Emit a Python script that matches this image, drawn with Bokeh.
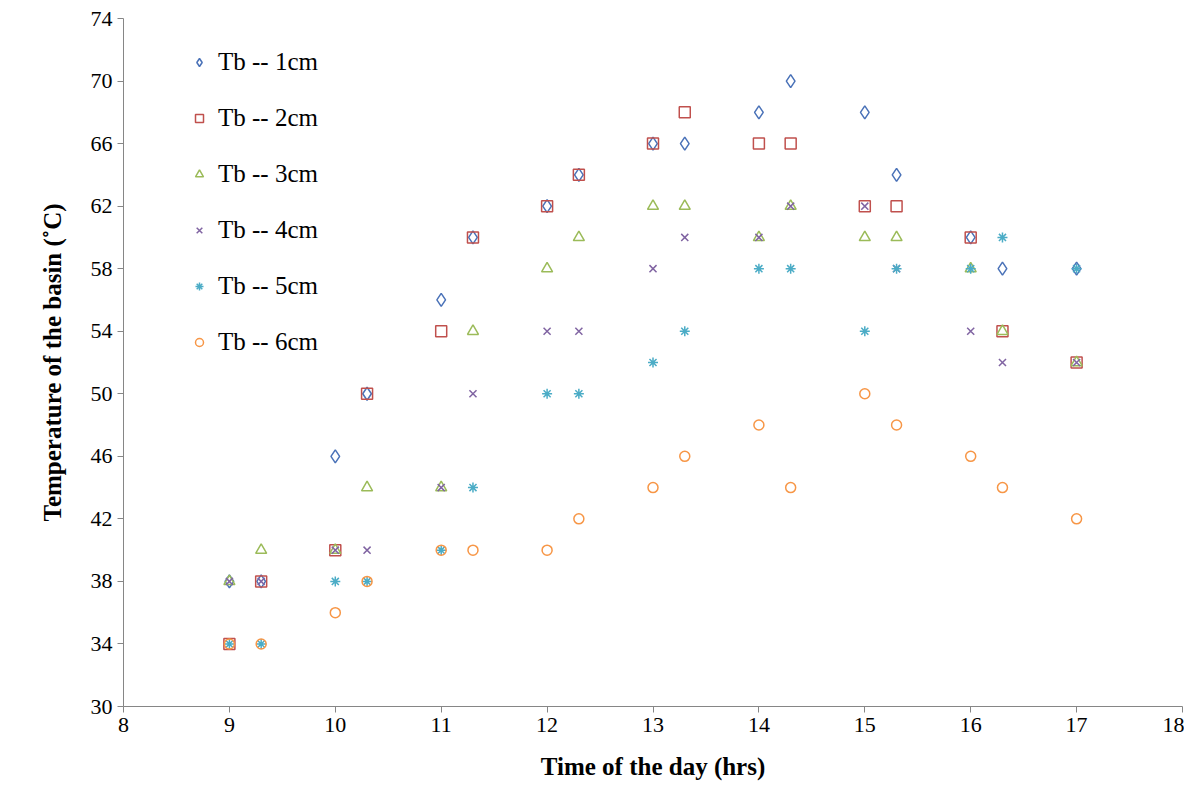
from bokeh.plotting import figure
from bokeh.models import Range1d, FixedTicker, Legend, LegendItem
from bokeh.embed import file_html
from bokeh.resources import INLINE

x = [9, 9.3, 10, 10.3, 11, 11.3, 12, 12.3, 13, 13.3, 14, 14.3, 15, 15.3, 16, 16.3, 17]
tb1 = [38, 38, 46, 50, 56, 60, 62, 64, 66, 66, 68, 70, 68, 64, 60, 58, 58]
tb2 = [34, 38, 40, 50, 54, 60, 62, 64, 66, 68, 66, 66, 62, 62, 60, 54, 52]
tb3 = [38, 40, 40, 44, 44, 54, 58, 60, 62, 62, 60, 62, 60, 60, 58, 54, 52]
tb4 = [38, 38, 40, 40, 44, 50, 54, 54, 58, 60, 60, 62, 62, 58, 54, 52, 52]
tb5 = [34, 34, 38, 38, 40, 44, 50, 50, 52, 54, 58, 58, 54, 58, 58, 60, 58]
tb6 = [34, 34, 36, 38, 40, 40, 40, 42, 44, 46, 48, 44, 50, 48, 46, 44, 42]
labels = ["Tb -- 1cm", "Tb -- 2cm", "Tb -- 3cm", "Tb -- 4cm", "Tb -- 5cm", "Tb -- 6cm"]

series = [tb1, tb2, tb3, tb4, tb5, tb6]
markers = ["diamond", "square", "triangle", "x", "asterisk", "circle"]
colors = ["#4a72b8", "#c0504d", "#9bbb59", "#8064a2", "#4bacc6", "#f79646"]
sizes = [13, 11, 11, 10, 10, 10]

p = figure(width=1184, height=794, output_backend="svg", toolbar_location=None,
           x_range=Range1d(8, 18), y_range=Range1d(30, 74),
           min_border_left=123, min_border_right=2, min_border_top=18, min_border_bottom=88)
p.outline_line_color = None
p.xgrid.visible = False
p.ygrid.visible = False
p.xaxis.ticker = FixedTicker(ticks=list(range(8, 19)))
p.yaxis.ticker = FixedTicker(ticks=list(range(30, 75, 4)))
for ax in (p.xaxis[0], p.yaxis[0]):
    ax.major_label_text_font = "Liberation Serif"
    ax.major_label_text_font_size = "22px"
    ax.major_label_text_color = "black"
    ax.axis_label_text_font = "Liberation Serif"
    ax.axis_label_text_font_size = "25px"
    ax.axis_label_text_font_style = "bold"
    ax.axis_label_text_color = "black"
    ax.axis_line_color = "#868686"
    ax.major_tick_line_color = "#868686"
    ax.major_tick_out = 6
    ax.major_tick_in = 0
    ax.minor_tick_line_color = None
p.xaxis.axis_label = "Time of the day (hrs)"
p.yaxis.axis_label = "Temperature of the basin (˚C)"
p.yaxis.axis_label_standoff = 22
p.xaxis.axis_label_standoff = 18

items = []
for s, m, c, sz, lab in zip(series, markers, colors, sizes, labels):
    r = p.scatter(x, s, marker=m, size=sz, line_color=c, fill_color=None, line_width=1.5)
    items.append(LegendItem(label=lab, renderers=[r]))
leg = Legend(items=items, location=(65, 350), border_line_color=None,
             background_fill_alpha=0, label_text_font="Liberation Serif",
             label_text_font_size="25px", label_text_color="black",
             spacing=28, glyph_width=22, label_standoff=8,
             margin=0, padding=0)
p.add_layout(leg)

open("out.html", "w").write(file_html(p, INLINE))
